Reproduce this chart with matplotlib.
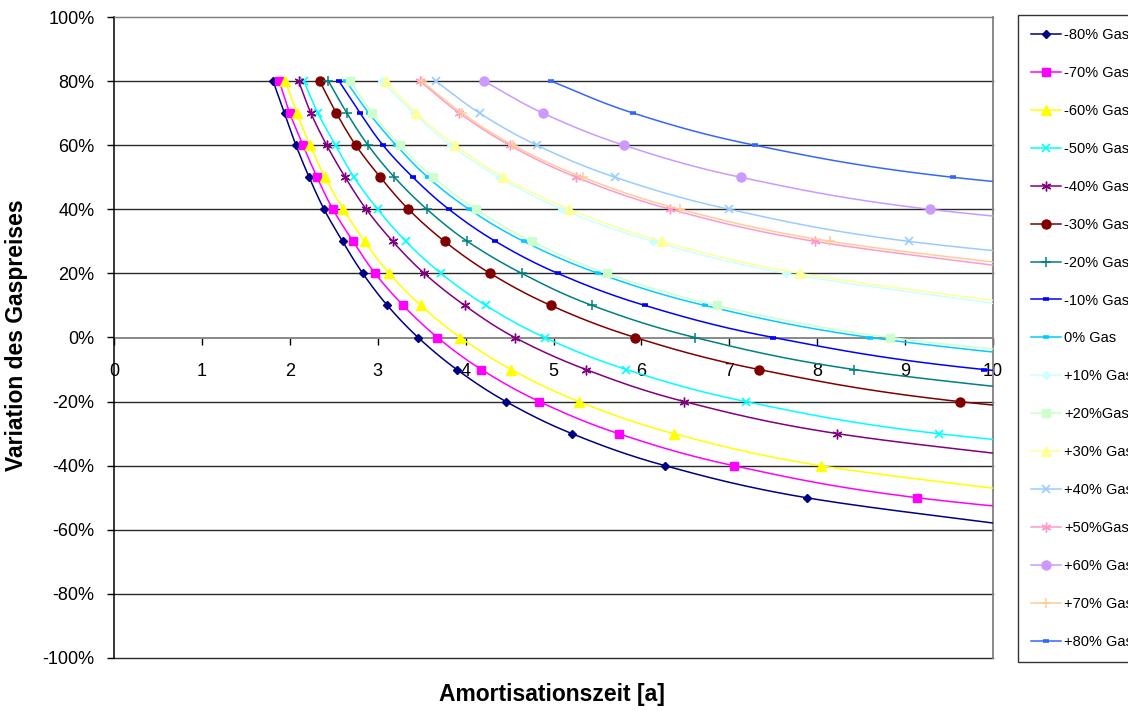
import numpy as np
import matplotlib
matplotlib.use("Agg")
import matplotlib.pyplot as plt
from matplotlib.ticker import FuncFormatter, MultipleLocator

plt.rcParams['font.family'] = ['Liberation Sans', 'DejaVu Sans']

# ---- data (price variation levels in %, amortisation time in years) ----
y_levels = [80, 70, 60, 50, 40, 30, 20, 10, 0, -10, -20, -30, -40, -50, -60]

labels = ["-80% Gas", "-70% Gas", "-60% Gas", "-50% Gas", "-40% Gas", "-30% Gas",
          "-20% Gas", "-10% Gas", "0% Gas", "+10% Gas", "+20%Gas", "+30% Gas",
          "+40% Gas", "+50%Gas", "+60% Gas", "+70% Gas", "+80% Gas"]

x_m80 = [1.81, 1.94, 2.07, 2.22, 2.39, 2.60, 2.83, 3.11, 3.46, 3.90, 4.46, 5.21, 6.27, 7.88, 10.6]
x_m70 = [1.88, 2.00, 2.15, 2.31, 2.49, 2.72, 2.97, 3.29, 3.68, 4.18, 4.84, 5.74, 7.05, 9.14, 13.0]
x_m60 = [1.95, 2.08, 2.23, 2.40, 2.61, 2.85, 3.13, 3.49, 3.94, 4.52, 5.29, 6.37, 8.04, 10.9]
x_m50 = [2.16, 2.32, 2.52, 2.73, 3.00, 3.32, 3.72, 4.23, 4.90, 5.83, 7.19, 9.38, 13.5]
x_m40 = [2.10, 2.24, 2.42, 2.63, 2.87, 3.17, 3.53, 3.99, 4.56, 5.37, 6.49, 8.23, 11.25]
x_m30 = [2.34, 2.53, 2.75, 3.03, 3.35, 3.76, 4.28, 4.97, 5.93, 7.34, 9.62, 13.9]
x_m20 = [2.44, 2.65, 2.89, 3.19, 3.56, 4.02, 4.64, 5.44, 6.61, 8.42, 11.6]
x_m10 = [2.56, 2.80, 3.06, 3.40, 3.81, 4.34, 5.05, 6.04, 7.50, 9.90, 14.6]
x_0   = [2.64, 2.90, 3.21, 3.57, 4.04, 4.66, 5.51, 6.72, 8.60, 11.9]
x_p10 = [3.05, 3.41, 3.83, 4.38, 5.10, 6.13, 7.65, 10.17]
x_p20 = [2.69, 2.94, 3.25, 3.63, 4.12, 4.75, 5.61, 6.86, 8.83, 12.4]
x_p30 = [3.09, 3.44, 3.88, 4.43, 5.18, 6.23, 7.80, 10.43]
x_p40 = [3.66, 4.16, 4.81, 5.70, 7.00, 9.04, 12.8]
x_p50 = [3.48, 3.93, 4.50, 5.26, 6.33, 7.97, 10.75]
x_p60 = [4.21, 4.88, 5.80, 7.13, 9.28, 13.3]
x_p70 = [3.50, 3.96, 4.54, 5.33, 6.44, 8.15, 11.1]
x_p80 = [4.97, 5.91, 7.29, 9.54, 13.8]

series_x = [x_m80, x_m70, x_m60, x_m50, x_m40, x_m30, x_m20, x_m10, x_0,
            x_p10, x_p20, x_p30, x_p40, x_p50, x_p60, x_p70, x_p80]

# ---- styles ----
colors = ["#000080", "#FF00FF", "#FFFF00", "#00FFFF", "#800080", "#800000",
          "#008080", "#0000FF", "#00CCFF", "#CCFFFF", "#CCFFCC", "#FFFF99",
          "#99CCFF", "#FF99CC", "#CC99FF", "#FFCC99", "#3366FF"]
markers = ["D", "s", "^", "x", (6, 2, 0), "o", "+", "_", "_",
           "D", "s", "^", "x", (6, 2, 0), "o", "+", "_"]
msizes = [4.5, 6, 7, 6, 7, 6.5, 7, 4.5, 4.5, 4.5, 6, 7, 6, 7, 6.5, 7, 4.5]
mews = [1, 1, 1, 1.2, 1.0, 1, 1.1, 2.6, 2.6, 1, 1, 1, 1.2, 1.0, 1, 1.1, 2.6]


def catmull_rom(px, py, n=24):
    P = np.column_stack([px, py]).astype(float)
    if len(P) < 3:
        return P[:, 0], P[:, 1]
    P = np.vstack([2 * P[0] - P[1], P, 2 * P[-1] - P[-2]])
    out = []
    t = np.linspace(0, 1, n, endpoint=False)[:, None]
    for i in range(1, len(P) - 2):
        p0, p1, p2, p3 = P[i - 1], P[i], P[i + 1], P[i + 2]
        seg = 0.5 * (2 * p1 + (-p0 + p2) * t + (2 * p0 - 5 * p1 + 4 * p2 - p3) * t ** 2
                     + (-p0 + 3 * p1 - 3 * p2 + p3) * t ** 3)
        out.append(seg)
    out.append(P[-2][None, :])
    out = np.vstack(out)
    return out[:, 0], out[:, 1]


W, H = 1128, 711
fig = plt.figure(figsize=(W / 100, H / 100), dpi=100)
L, R, T, B = 114, 993, 17, 658
ax = fig.add_axes([L / W, 1 - B / H, (R - L) / W, (B - T) / H])

handles = []
for xs, lab, c, m, ms, mew in zip(series_x, labels, colors, markers, msizes, mews):
    ys = [v / 100 for v in y_levels[:len(xs)]]
    sx, sy = catmull_rom(xs, ys)
    ax.plot(sx, sy, color=c, lw=1.1, zorder=3)
    ax.plot(xs, ys, linestyle='none', marker=m, color=c, markersize=ms,
            markeredgewidth=mew, markeredgecolor=c, zorder=3)
    h, = ax.plot([], [], color=c, lw=1.1, marker=m, markersize=ms,
                 markeredgewidth=mew, markeredgecolor=c)
    handles.append(h)

ax.set_xlim(0, 10)
ax.set_ylim(-1, 1)

# grid lines
for g in np.arange(-1.0, 1.01, 0.2):
    if abs(g) < 1e-9:
        continue
    ax.axhline(g, color="#808080" if g > 0.99 else "#2a2a2a", lw=1, zorder=1,
               clip_on=False)

ax.spines['bottom'].set_position(('data', 0))
ax.spines['bottom'].set_color('#808080')
ax.spines['bottom'].set_linewidth(1.3)
ax.spines['bottom'].set_zorder(2)
ax.spines['top'].set_color('#808080')
ax.spines['right'].set_color('#808080')
ax.spines['right'].set_linewidth(1.3)
ax.spines['left'].set_color('black')
ax.spines['left'].set_linewidth(1.1)

ax.xaxis.set_major_locator(MultipleLocator(1))
ax.yaxis.set_major_locator(MultipleLocator(0.2))
ax.yaxis.set_major_formatter(FuncFormatter(lambda v, p: f"{v * 100:.0f}%"))
ax.tick_params(axis='both', direction='out', length=5, width=1, colors='black',
               labelsize=13)
ax.tick_params(axis='x', pad=13)
ax.tick_params(axis='y', pad=9)

ax.set_xlabel("Amortisationszeit [a]", fontsize=16.5, fontweight='bold', va='center')
ax.xaxis.set_label_coords((552 - L) / (R - L), (B - 695) / (B - T))
ax.set_ylabel("Variation des Gaspreises", fontsize=16.5, fontweight='bold', va='center')
ax.yaxis.set_label_coords((17 - L) / (R - L), (B - 335) / (B - T))

leg = fig.legend(handles=handles, labels=labels, loc='upper left',
                 bbox_to_anchor=(1018 / W, 1 - 15 / H), bbox_transform=fig.transFigure,
                 fontsize=10.5, frameon=True, fancybox=False, borderpad=0.9,
                 handlelength=2.05, handletextpad=0.2, labelspacing=1.64,
                 borderaxespad=0, numpoints=1)
leg.get_frame().set_edgecolor('black')
leg.get_frame().set_linewidth(1)

fig.savefig("out.png", dpi=100)
